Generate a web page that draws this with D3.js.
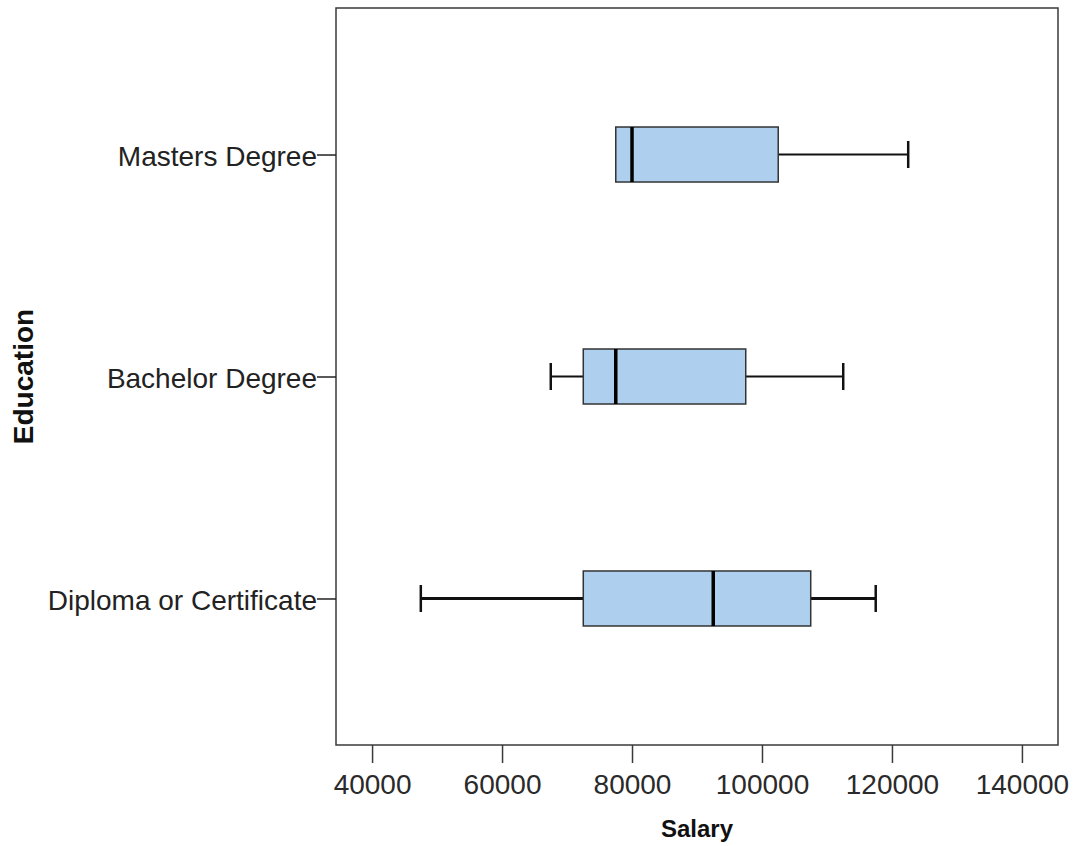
<!DOCTYPE html>
<html><head><meta charset="utf-8">
<script src="https://cdn.jsdelivr.net/npm/d3@7"></script>
<style>body{margin:0;background:#fff}svg{display:block}</style>
</head><body>
<svg id="c" width="1073" height="846"></svg>
<script>
const categories = ["Masters Degree", "Bachelor Degree", "Diploma or Certificate"];
const whiskerLow  = [77500, 67500, 47500];
const q1          = [77500, 72500, 72500];
const median      = [80000, 77500, 92500];
const q3          = [102500, 97500, 107500];
const whiskerHigh = [122500, 112500, 117500];
const xTicks = [40000, 60000, 80000, 100000, 120000, 140000];
const xTitle = "Salary";
const yTitle = "Education";

const whiskerWidth = {"Masters Degree": 2, "Bachelor Degree": 2, "Diploma or Certificate": 3};

const svg = d3.select("#c");
const L = 336, R = 1058, T = 8, B = 745;
const x = d3.scaleLinear().domain([34450, 145550]).range([L, R]);
const y = d3.scalePoint().domain(categories).range([T, B]).padding(0.66);

const FONT = "'Liberation Sans', Arial, sans-serif";

// frame
svg.append("rect").attr("x", L).attr("y", T).attr("width", R - L).attr("height", B - T)
  .attr("fill", "none").attr("stroke", "#3a3a3a").attr("stroke-width", 1.5);

// x axis
const xa = svg.append("g").attr("transform", `translate(0,${B})`)
  .call(d3.axisBottom(x).tickValues(xTicks).tickFormat(d3.format("d")).tickSize(18).tickPadding(9).tickSizeOuter(0));
xa.select(".domain").remove();
xa.selectAll(".tick line").attr("stroke", "#3a3a3a").attr("stroke-width", 1.5);
xa.selectAll(".tick text").attr("font-family", FONT).attr("font-size", 28).attr("fill", "#2a2a2a")
  .attr("dy", "0.78em");

// y axis
const ya = svg.append("g").attr("transform", `translate(${L},0)`)
  .call(d3.axisLeft(y).tickSize(19).tickPadding(0).tickSizeOuter(0));
ya.select(".domain").remove();
ya.selectAll(".tick line").attr("stroke", "#222").attr("stroke-width", 1.5);
ya.selectAll(".tick text").attr("font-family", FONT).attr("font-size", 28).attr("fill", "#222").attr("dy", "0.4em");

// titles
svg.append("text").attr("x", (L + R) / 2).attr("y", 837).attr("text-anchor", "middle")
  .attr("font-family", FONT).attr("font-weight", "bold").attr("font-size", 24).attr("fill", "#111").text(xTitle);
svg.append("text").attr("transform", `translate(33,${(T + B) / 2}) rotate(-90)`).attr("text-anchor", "middle")
  .attr("font-family", FONT).attr("font-weight", "bold").attr("font-size", 28).attr("fill", "#111").text(yTitle);

// boxes
const data = categories.map((c, i) => ({c, lo: whiskerLow[i], q1: q1[i], med: median[i], q3: q3[i], hi: whiskerHigh[i]}));
const boxH = 55, capH = 27;
const g = svg.append("g").selectAll("g").data(data).join("g");

g.each(function(d) {
  const s = d3.select(this), cy = y(d.c), w = whiskerWidth[d.c];
  if (d.lo < d.q1) {
    s.append("line").attr("x1", x(d.lo)).attr("x2", x(d.q1)).attr("y1", cy).attr("y2", cy).attr("stroke", "#111").attr("stroke-width", w);
    s.append("line").attr("x1", x(d.lo)).attr("x2", x(d.lo)).attr("y1", cy - capH / 2).attr("y2", cy + capH / 2).attr("stroke", "#111").attr("stroke-width", 2.5);
  }
  if (d.hi > d.q3) {
    s.append("line").attr("x1", x(d.q3)).attr("x2", x(d.hi)).attr("y1", cy).attr("y2", cy).attr("stroke", "#111").attr("stroke-width", w);
    s.append("line").attr("x1", x(d.hi)).attr("x2", x(d.hi)).attr("y1", cy - capH / 2).attr("y2", cy + capH / 2).attr("stroke", "#111").attr("stroke-width", 2.5);
  }
  s.append("rect").attr("x", x(d.q1)).attr("y", cy - boxH / 2).attr("width", x(d.q3) - x(d.q1)).attr("height", boxH)
    .attr("fill", "#aed0ee").attr("stroke", "#333").attr("stroke-width", 1.5);
  s.append("line").attr("x1", x(d.med)).attr("x2", x(d.med)).attr("y1", cy - boxH / 2).attr("y2", cy + boxH / 2)
    .attr("stroke", "#000").attr("stroke-width", 3.5);
});
</script>
</body></html>
